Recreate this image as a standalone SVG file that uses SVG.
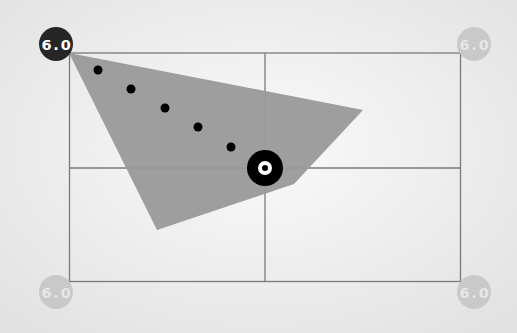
<svg xmlns="http://www.w3.org/2000/svg" width="517" height="333" viewBox="0 0 517 333">
<defs>
<radialGradient id="bg" cx="50%" cy="45%" r="70%">
<stop offset="0" stop-color="#fafafa"/>
<stop offset="1" stop-color="#e2e2e2"/>
</radialGradient>
<style>
.grid{stroke:#7a7a7a;stroke-width:1.3;fill:none}
.dot{fill:#000}
.lbl{font-family:"DejaVu Sans",Verdana,sans-serif;font-weight:bold;font-size:14.5px;letter-spacing:1.8px;text-anchor:middle}
.off circle{fill:#c9c9c9}
.off text{fill:#e6e6e6}
</style>
</defs>
<rect x="0" y="0" width="517" height="333" fill="url(#bg)"/>
<rect x="69.5" y="53" width="391" height="228.5" fill="#fff" class="grid"/>
<g id="connectors">
<line class="grid" x1="265" y1="53" x2="265" y2="281.5"/>
<line class="grid" x1="69.5" y1="168" x2="460.5" y2="168"/>
</g>
<polygon id="shape" points="69,53 363,110 294,184 157,230" fill="#999" fill-opacity="0.95"/>
<g id="dots">
<circle class="dot" cx="98" cy="70" r="4.5"/>
<circle class="dot" cx="131" cy="89" r="4.5"/>
<circle class="dot" cx="165" cy="108" r="4.5"/>
<circle class="dot" cx="198" cy="127" r="4.5"/>
<circle class="dot" cx="231" cy="147" r="4.5"/>
</g>
<g id="center">
<circle cx="265" cy="168" r="18" fill="#000"/>
<circle cx="265" cy="168" r="5" fill="none" stroke="#fff" stroke-width="4"/>
</g>
<g id="tl"><circle cx="56" cy="44" r="17" fill="#262626"/><text class="lbl" x="57" y="49.5" fill="#fff">6.0</text></g>
<g id="tr" class="off"><circle cx="474" cy="44" r="17"/><text class="lbl" x="475" y="49.5">6.0</text></g>
<g id="bl" class="off"><circle cx="56" cy="292" r="17"/><text class="lbl" x="57" y="297.5">6.0</text></g>
<g id="br" class="off"><circle cx="474" cy="292" r="17"/><text class="lbl" x="475" y="297.5">6.0</text></g>
</svg>
